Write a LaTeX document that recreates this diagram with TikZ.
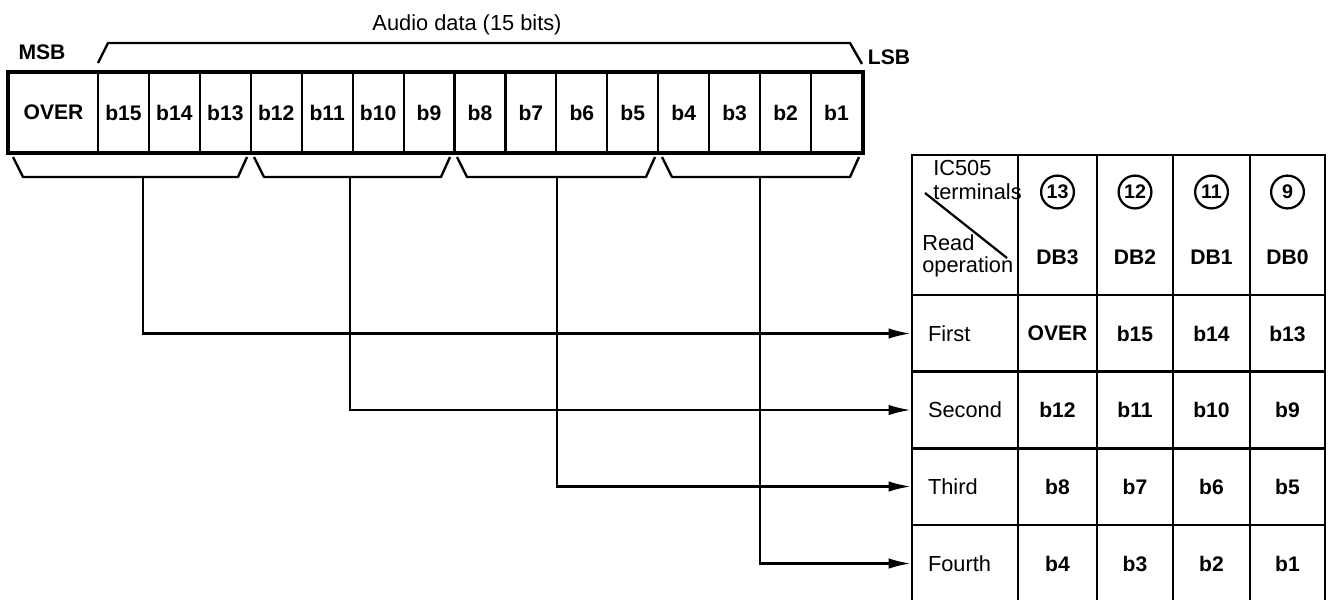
\documentclass[tikz,border=0pt]{standalone}
\usepackage{fontspec}
\setmainfont{Liberation Sans}
\usetikzlibrary{positioning,arrows.meta}

\begin{document}
\begin{tikzpicture}[
  x=0.025cm, y=-0.025cm,
  bit/.style={draw, line width=1.5pt, minimum width=1.273cm, minimum height=1.975cm, inner sep=0pt, font=\fontsize{15}{17}\selectfont\bfseries},
  cell/.style={draw, line width=1.8pt, minimum height=1.925cm, inner sep=0pt, font=\fontsize{15}{17}\selectfont\bfseries},
  brace/.style={line width=1.7pt, line join=round},
  feed/.style={-{Latex[length=5.5mm,width=2.6mm]}, line width=1.6pt},
  txt/.style={inner sep=0pt, font=\fontsize{15.5}{17.5}\selectfont},
  term/.style={draw, circle, line width=1.6pt, minimum size=0.82cm, inner sep=0pt, font=\fontsize{14}{16}\selectfont\bfseries}
]
\useasboundingbox (0,0) rectangle (1332,599);

% Audio word (top row)
\node[bit, minimum width=2.225cm] (over) at (53.5,112.5) {OVER};
\foreach \n [count=\i] in {15,14,...,1}
  \node[bit] (b\n) at ({98+50.93*(\i-0.5)},112.5) {b\n};
\draw[line width=2.6pt] (over.north west) rectangle (b1.south east);

% Top brace and labels
\draw[brace] (98,63) -- (108,43) -- (850,43) -- (862,64);
\node[txt] (audio) at (467,25) {Audio data (15 bits)};
\node[txt, font=\fontsize{15}{17}\selectfont\bfseries] (msb) at (42,52) {MSB};
\node[txt, font=\fontsize{15}{17}\selectfont\bfseries] (lsb) at (889,57) {LSB};

% Nibble braces
\foreach \xs/\xe/\xm/\g in {9/250/143/1, 250/453/350/2, 453/658/557/3, 658/862/760/4} {
  \draw[brace] (\xs+4,157) -- (\xs+14,177) -- (\xe-12,177) -- (\xe-3,157);
  \coordinate (g\g) at (\xm,177);
}

% Table header
\node[cell, minimum width=2.65cm, minimum height=3.5cm] (corner) at (965,225) {};
\draw[line width=1.6pt] (925,193) -- (1007,258);
\node[txt, anchor=west, align=left] (ic) at (933,180) {IC505\\terminals};
\node[txt, anchor=west, align=left, font=\fontsize{15.5}{15.6}\selectfont] (readop) at (922,256) {Read\\operation};
\foreach \x/\w/\t/\d [count=\j] in {1057.5/79/13/DB3, 1135/76/12/DB2, 1211.5/77/11/DB1, 1287.5/75/9/DB0} {
  \node[cell, minimum width={\w*0.025cm}, minimum height=3.5cm] (h\j) at (\x,225) {};
  \node[term] (t\j) at (\x,192) {\t};
  \node[cell, draw=none] (d\j) at (\x,257) {\d};
}

% Table rows
\foreach \r/\y [count=\i] in {First/333.5, Second/410, Third/486.5, Fourth/563.5}
  \node[cell, minimum width=2.65cm, text width=1.85cm, align=left, font=\fontsize{15.5}{17}\selectfont] (r\i) at (965,\y) {\r};
\foreach \y/\va/\vb/\vc/\vd [count=\i] in {333.5/OVER/b15/b14/b13, 410/b12/b11/b10/b9, 486.5/b8/b7/b6/b5, 563.5/b4/b3/b2/b1} {
  \node[cell, minimum width=1.975cm] (c\i-1) at (1057.5,\y) {\va};
  \node[cell, minimum width=1.9cm] (c\i-2) at (1135,\y) {\vb};
  \node[cell, minimum width=1.925cm] (c\i-3) at (1211.5,\y) {\vc};
  \node[cell, minimum width=1.875cm] (c\i-4) at (1287.5,\y) {\vd};
}

% Read feeds
\foreach \i in {1,...,4}
  \draw[feed] (g\i) |- (r\i.west);

\end{tikzpicture}
\end{document}
